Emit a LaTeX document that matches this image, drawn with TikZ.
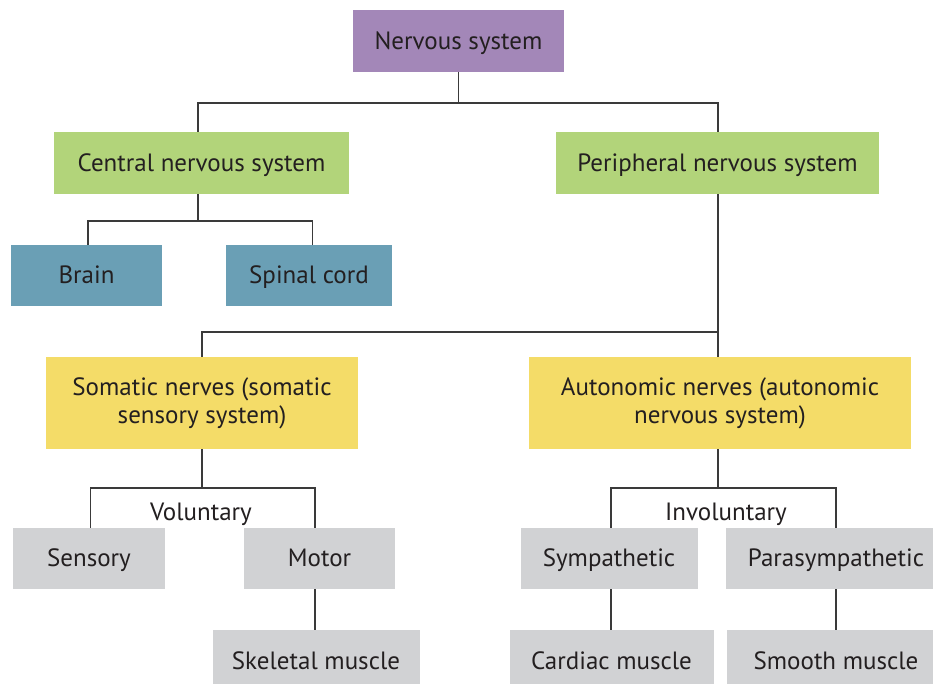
\documentclass[tikz,border=0pt]{standalone}
\usepackage{fontspec}
\setmainfont{PT Sans}
\definecolor{txt}{HTML}{231F20}
\definecolor{lnc}{HTML}{3A3A3A}
\definecolor{cpurple}{HTML}{A387B8}
\definecolor{cgreen}{HTML}{B2D47A}
\definecolor{cblue}{HTML}{6A9FB5}
\definecolor{cyellow}{HTML}{F4DC68}
\definecolor{cgray}{HTML}{D1D2D4}
\begin{document}
\begin{tikzpicture}[x=1pt,y=1pt,
  box2/.style={inner sep=0pt, align=center, text=txt,
    font=\fontsize{25}{28}\selectfont},
  box/.style={box2, text height=18pt, text depth=2pt},
  lbl/.style={inner sep=0pt, text=txt, text height=18pt, text depth=2pt,
    font=\fontsize{25}{28}\selectfont},
  conn/.style={draw=lnc, line width=1.2pt}]
\clip (0,0) rectangle (933,-683);
\fill[white] (0,0) rectangle (933,-683);
% nodes
\node[box, fill=cpurple, minimum width=211, minimum height=62] (ns) at (458.5,-41) {Nervous system};
\node[box, fill=cgreen, minimum width=295, minimum height=62] (cns) at (201.5,-163) {Central nervous system};
\node[box, fill=cgreen, minimum width=323, minimum height=62] (pns) at (717.5,-163) {Peripheral nervous system};
\node[box, fill=cblue, minimum width=151, minimum height=61] (brain) at (86.5,-275.5) {Brain};
\node[box, fill=cblue, minimum width=166, minimum height=61] (spinal) at (309,-275.5) {Spinal cord};
\node[box2, fill=cyellow, minimum width=312, minimum height=92] (som) at (202,-403) {Somatic nerves (somatic\\sensory system)};
\node[box2, fill=cyellow, minimum width=382, minimum height=92] (aut) at (720,-403) {Autonomic nerves (autonomic\\nervous system)};
\node[box, fill=cgray, minimum width=152, minimum height=61] (sens) at (89,-558.5) {Sensory};
\node[box, fill=cgray, minimum width=151, minimum height=61] (motor) at (319.5,-558.5) {Motor};
\node[box, fill=cgray, minimum width=177, minimum height=61] (symp) at (609,-558.5) {Sympathetic};
\node[box, fill=cgray, minimum width=220, minimum height=61] (para) at (836,-558.5) {Parasympathetic};
\node[box, fill=cgray, minimum width=207, minimum height=62] (skel) at (316,-661) {Skeletal muscle};
\node[box, fill=cgray, minimum width=204, minimum height=62] (card) at (611.5,-661) {Cardiac muscle};
\node[box, fill=cgray, minimum width=218, minimum height=62] (smooth) at (836,-661) {Smooth muscle};
\node[lbl] (vol) at (201,-512) {Voluntary};
\node[lbl] (invol) at (726,-512) {Involuntary};
% branch points
\coordinate (b1) at (458.5,-103);
\coordinate (b2) at (198,-221);
\coordinate (b3) at (718,-332);
\coordinate (b4) at (202,-488);
\coordinate (b5) at (718,-488);
% connectors
\draw[conn] (ns.south) -- (b1);
\draw[conn] (b1) -| ([xshift=-3.5pt]cns.north);
\draw[conn] (b1) -| ([xshift=0.5pt]pns.north);
\draw[conn] ([xshift=-3.5pt]cns.south) -- (b2);
\draw[conn] (b2) -| ([xshift=1.5pt]brain.north);
\draw[conn] (b2) -| ([xshift=3.5pt]spinal.north);
\draw[conn] ([xshift=0.5pt]pns.south) -- ([xshift=-2pt]aut.north);
\draw[conn] (b3) -| (som.north);
\draw[conn] (som.south) -- (b4);
\draw[conn] (b4) -| ([xshift=1.5pt]sens.north);
\draw[conn] (b4) -| ([xshift=-4.5pt]motor.north);
\draw[conn] ([xshift=-2pt]aut.south) -- (b5);
\draw[conn] (b5) -| ([xshift=2pt]symp.north);
\draw[conn] (b5) -| (para.north);
\draw[conn] ([xshift=-4.5pt]motor.south) -- ([xshift=-1pt]skel.north);
\draw[conn] ([xshift=2pt]symp.south) -- ([xshift=-0.5pt]card.north);
\draw[conn] (para.south) -- (smooth.north);
\end{tikzpicture}
\end{document}
